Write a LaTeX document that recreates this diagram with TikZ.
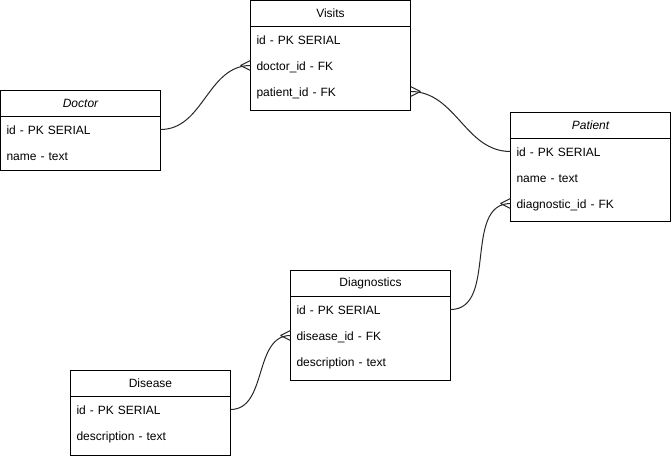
\documentclass[tikz,border=0pt]{standalone}
\usepackage{fontspec}
\setmainfont{Liberation Sans}
\usetikzlibrary{arrows.meta,positioning,fit,calc}

\begin{document}
\begin{tikzpicture}[
  x=1pt, y=-1pt,
  font=\fontsize{12}{14}\selectfont,
  line width=1pt,
  every node/.style={outer sep=0pt},
  hdr/.style={draw, anchor=north west, minimum width=160pt, minimum height=26pt, inner sep=0pt},
  row/.style={anchor=north west, text width=148pt, inner xsep=6pt, inner ysep=0pt,
    minimum height=26pt, text height=11pt, text depth=1pt, align=left},
  frame/.style={draw, inner sep=0pt},
  rel/.style={draw=black!85, out=0, in=180},
  many/.pic={\draw[black!85] (-10,0) -- (0,-5) (-10,0) -- (0,5);},
]
\useasboundingbox (0,0) rectangle (671,457);

\node[hdr] (visits) at (250.5,0.5) {Visits};
\node[row] (visits-id) at (visits.south west) {id - PK SERIAL};
\node[row] (visits-doc) at (visits-id.south west) {doctor\_id - FK};
\node[row] (visits-pat) at (visits-doc.south west) {patient\_id - FK};
\coordinate (visits-end) at ($(visits-pat.south west)+(0,6)$);
\node[frame, fit=(visits)(visits-pat)(visits-end)] (visits-box) {};

\node[hdr] (doctor) at (0.5,90.5) {\itshape Doctor};
\node[row] (doctor-id) at (doctor.south west) {id - PK SERIAL};
\node[row] (doctor-name) at (doctor-id.south west) {name - text};
\coordinate (doctor-end) at ($(doctor-name.south west)+(0,2)$);
\node[frame, fit=(doctor)(doctor-name)(doctor-end)] (doctor-box) {};

\node[hdr] (patient) at (510.5,112.5) {\itshape Patient};
\node[row] (patient-id) at (patient.south west) {id - PK SERIAL};
\node[row] (patient-name) at (patient-id.south west) {name - text};
\node[row] (patient-diag) at (patient-name.south west) {diagnostic\_id - FK};
\coordinate (patient-end) at ($(patient-diag.south west)+(0,5)$);
\node[frame, fit=(patient)(patient-diag)(patient-end)] (patient-box) {};

\node[hdr] (diag) at (290.5,270.5) {Diagnostics};
\node[row] (diag-id) at (diag.south west) {id - PK SERIAL};
\node[row] (diag-dis) at (diag-id.south west) {disease\_id - FK};
\node[row] (diag-desc) at (diag-dis.south west) {description - text};
\coordinate (diag-end) at ($(diag-desc.south west)+(0,6)$);
\node[frame, fit=(diag)(diag-desc)(diag-end)] (diag-box) {};

\node[hdr] (disease) at (70.5,370.5) {Disease};
\node[row] (disease-id) at (disease.south west) {id - PK SERIAL};
\node[row] (disease-desc) at (disease-id.south west) {description - text};
\coordinate (disease-end) at ($(disease-desc.south west)+(0,7)$);
\node[frame, fit=(disease)(disease-desc)(disease-end)] (disease-box) {};

\draw[rel] (doctor-id.east) to (visits-doc.west);
\draw[rel] (visits-pat.east) to (patient-id.west);
\draw[rel] (diag-id.east) to (patient-diag.west);
\draw[rel] (disease-id.east) to (diag-dis.west);

\pic at (visits-doc.west) {many};
\pic[xscale=-1] at (visits-pat.east) {many};
\pic at (patient-diag.west) {many};
\pic at (diag-dis.west) {many};
\end{tikzpicture}
\end{document}
